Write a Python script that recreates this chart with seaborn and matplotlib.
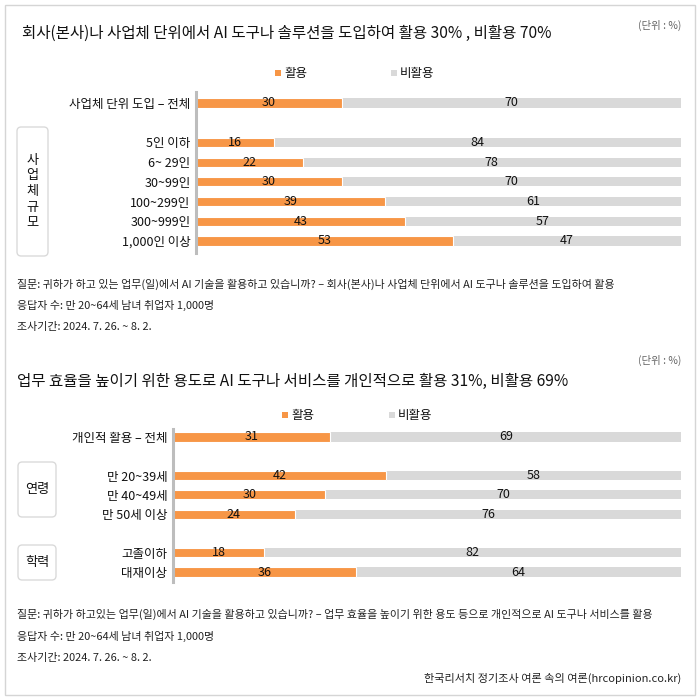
import matplotlib
matplotlib.use("Agg")
import matplotlib.pyplot as plt
from matplotlib.patches import Rectangle, FancyBboxPatch
import seaborn as sns
import pandas as pd

# ---------------- data ----------------
title1 = "회사(본사)나 사업체 단위에서 AI 도구나 솔루션을 도입하여 활용 30% , 비활용 70%"
cats1 = ["사업체 단위 도입 – 전체", "5인 이하", "6~ 29인", "30~99인", "100~299인", "300~999인", "1,000인 이상"]
pos1 = [0, 2, 3, 4, 5, 6, 7]
use1 = [30, 16, 22, 30, 39, 43, 53]
nonuse1 = [70, 84, 78, 70, 61, 57, 47]

title2 = "업무 효율을 높이기 위한 용도로 AI 도구나 서비스를 개인적으로 활용 31%, 비활용 69%"
cats2 = ["개인적 활용 – 전체", "만 20~39세", "만 40~49세", "만 50세 이상", "고졸이하", "대재이상"]
pos2 = [0, 2, 3, 4, 6, 7]
use2 = [31, 42, 30, 24, 18, 36]
nonuse2 = [69, 58, 70, 76, 82, 64]

legend_labels = ["활용", "비활용"]
unit_label = "(단위 : %)"

notes1 = ["질문: 귀하가 하고 있는 업무(일)에서 AI 기술을 활용하고 있습니까? – 회사(본사)나 사업체 단위에서 AI 도구나 솔루션을 도입하여 활용",
          "응답자 수: 만 20~64세 남녀 취업자 1,000명",
          "조사기간: 2024. 7. 26. ~ 8. 2."]
notes2 = ["질문: 귀하가 하고있는 업무(일)에서 AI 기술을 활용하고 있습니까? – 업무 효율을 높이기 위한 용도 등으로 개인적으로 AI 도구나 서비스를 활용",
          "응답자 수: 만 20~64세 남녀 취업자 1,000명",
          "조사기간: 2024. 7. 26. ~ 8. 2."]
source = "한국리서치 정기조사 여론 속의 여론(hrcopinion.co.kr)"

group1 = ["사업체\n규모"]
group2 = ["연령", "학력"]

ORANGE = "#F79646"
GRAY = "#D9D9D9"
TXT = "#111111"

sns.set_theme(style="white")
plt.rcParams["font.family"] = ["Noto Sans CJK KR", "DejaVu Sans"]

W = H = 700
fig = plt.figure(figsize=(7, 7), dpi=100)


def fx(x):
    return x / W


def fy(y):
    return 1 - y / H


# outer border
fig.patches.append(Rectangle((fx(5), fy(695)), fx(690), 690 / H, transform=fig.transFigure,
                             fill=False, edgecolor="#D5D5D5", lw=1))


def make_axes(x0, x1, y0, y1):
    return fig.add_axes([fx(x0), fy(y1), fx(x1) - fx(x0), (y1 - y0) / H])


def draw_bars(ax, cats, pos, use, nonuse, ylim):
    df = pd.DataFrame({"pos": pos, "use": use, "nonuse": nonuse})
    df["total"] = df["use"] + df["nonuse"]
    sns.barplot(data=df, x="total", y="pos", orient="y", native_scale=True,
                color=GRAY, saturation=1, width=0.47, ax=ax, linewidth=0)
    sns.barplot(data=df, x="use", y="pos", orient="y", native_scale=True,
                color=ORANGE, saturation=1, width=0.47, ax=ax,
                edgecolor="white", linewidth=0.8)
    for p, u, n in zip(pos, use, nonuse):
        ax.text(u / 2, p, str(u), ha="center", va="center", fontsize=9, color=TXT, fontweight="medium")
        ax.text(u + n / 2, p, str(n), ha="center", va="center", fontsize=9, color=TXT, fontweight="medium")
    ax.set_xlim(0, 100)
    ax.set_ylim(*ylim)
    ax.set_yticks(pos)
    ax.set_yticklabels(cats, fontsize=9, color=TXT, fontweight="medium")
    ax.tick_params(axis="y", length=0, pad=4)
    ax.set_xticks([])
    ax.set_xlabel("")
    ax.set_ylabel("")
    for s in ["top", "right", "bottom"]:
        ax.spines[s].set_visible(False)
    ax.spines["left"].set_color("#BDBDBD")
    ax.spines["left"].set_linewidth(2.2)
    ax.patch.set_alpha(0)


def legend(xo, xg, y):
    s = 6
    fig.patches.append(Rectangle((fx(xo), fy(y + s / 2)), s / W, s / H, transform=fig.transFigure,
                                 facecolor=ORANGE, edgecolor="none"))
    fig.text(fx(xo + s + 3), fy(y), legend_labels[0], fontsize=9, va="center", ha="left", color=TXT,
             fontweight="medium")
    fig.patches.append(Rectangle((fx(xg), fy(y + s / 2)), s / W, s / H, transform=fig.transFigure,
                                 facecolor=GRAY, edgecolor="none"))
    fig.text(fx(xg + s + 3), fy(y), legend_labels[1], fontsize=9, va="center", ha="left", color=TXT,
             fontweight="medium")


def group_box(x0, y0, x1, y1, label, linespacing=1.2):
    fig.patches.append(FancyBboxPatch((fx(x0), fy(y1)), fx(x1 - x0), (y1 - y0) / H,
                                      boxstyle="round,pad=0,rounding_size=0.006",
                                      transform=fig.transFigure, facecolor="white",
                                      edgecolor="#DADADA", lw=1))
    fig.text(fx((x0 + x1) / 2), fy((y0 + y1) / 2), label, ha="center", va="center",
             fontsize=9.5, color=TXT, linespacing=linespacing, fontweight="medium")


# ---------------- top section ----------------
fig.text(fx(22), fy(33), title1, fontsize=11.2, ha="left", va="center", color=TXT, fontweight="medium")
fig.text(fx(681), fy(25), unit_label, fontsize=7.5, ha="right", va="center", color="#666666")
legend(275, 391, 73)

# rows: 0 -> y=103, 7 -> y=241 ; axis 92..253
ax1 = make_axes(196, 681, 92, 253)
u1 = (241 - 103) / 7.0
draw_bars(ax1, cats1, pos1, use1, nonuse1, ((253 - 103) / u1, (92 - 103) / u1))

group_box(17, 127, 48, 256, "\n".join(list(group1[0].replace("\n", ""))), linespacing=1.25)

for i, t in enumerate(notes1):
    fig.text(fx(17), fy(284 + i * 21.5), t, fontsize=7.9, ha="left", va="center", color="#222222")

# ---------------- bottom section ----------------
fig.text(fx(681), fy(360), unit_label, fontsize=7.5, ha="right", va="center", color="#666666")
fig.text(fx(17), fy(381), title2, fontsize=11.2, ha="left", va="center", color=TXT, fontweight="medium")
legend(282, 389, 415)

# rows: 0 -> y=437, 7 -> y=572 ; axis 429..582
ax2 = make_axes(173, 681, 429, 582)
u2 = (572 - 437) / 7.0
draw_bars(ax2, cats2, pos2, use2, nonuse2, ((582 - 437) / u2, (429 - 437) / u2))

group_box(18, 462, 56, 517, group2[0])
group_box(18, 545, 56, 580, group2[1])

for i, t in enumerate(notes2):
    fig.text(fx(17), fy(614 + i * 22), t, fontsize=7.9, ha="left", va="center", color="#222222")
fig.text(fx(681), fy(678), source, fontsize=8, ha="right", va="center", color="#222222")

fig.savefig("out.png", dpi=100)
